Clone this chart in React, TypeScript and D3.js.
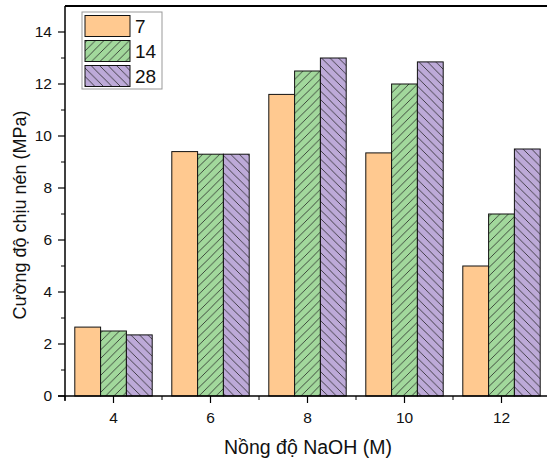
import React from "react";
import * as d3 from "d3";

const categories = [4, 6, 8, 10, 12];
const seriesNames = ["7", "14", "28"];
const values7 = [2.65, 9.4, 11.6, 9.35, 5.0];
const values14 = [2.5, 9.3, 12.5, 12.0, 7.0];
const values28 = [2.35, 9.3, 13.0, 12.85, 9.5];
const yTicks = [0, 2, 4, 6, 8, 10, 12, 14];
const xTicks = [4, 6, 8, 10, 12];

const W = 547;
const H = 461;
const colors = ["#FFC990", "#A2D89C", "#BDAAD8"];
const patterns = ["none", "fwd", "back"];

export default function App() {
  const x = d3.scaleLinear().domain([3, 13]).range([65, 550]);
  const y = d3.scaleLinear().domain([0, 15]).range([396, 6]);
  const series = [values7, values14, values28];
  const barUnits = 0.532;
  const bw = x(3 + barUnits) - x(3);
  const font = "'Liberation Sans', Arial, sans-serif";
  const yMinor = d3.range(1, 15, 2);
  const xMinor = [3, 5, 7, 9, 11, 13];

  return (
    <div style={{ position: "absolute", left: 0, top: 0 }}>
      <svg width={W} height={H} style={{ display: "block", background: "#fff" }}>
        <defs>
          <pattern id="fwd" patternUnits="userSpaceOnUse" width="8.5" height="8.5">
            <rect width="8.5" height="8.5" fill={colors[1]} />
            <path d="M-1,9.5 L9.5,-1 M-2,2 L2,-2 M6.5,10.5 L10.5,6.5" stroke="#222" strokeWidth="0.8" />
          </pattern>
          <pattern id="back" patternUnits="userSpaceOnUse" width="8.5" height="8.5">
            <rect width="8.5" height="8.5" fill={colors[2]} />
            <path d="M-1,-1 L9.5,9.5 M-2,6.5 L2,10.5 M6.5,-2 L10.5,2" stroke="#222" strokeWidth="0.8" />
          </pattern>
        </defs>

        {series.map((vals, si) =>
          vals.map((v, ci) => {
            const cx = x(categories[ci]);
            const x0 = cx - 1.5 * bw + si * bw;
            const fill = patterns[si] === "none" ? colors[si] : `url(#${patterns[si]})`;
            return (
              <rect
                key={`${si}-${ci}`}
                x={x0}
                y={y(v)}
                width={bw}
                height={y(0) - y(v)}
                fill={fill}
                stroke="#111"
                strokeWidth={1}
              />
            );
          })
        )}

        <line x1={x(3)} x2={W} y1={6} y2={6} stroke="#000" strokeWidth={2} />

        <line x1={x(3)} x2={x(3)} y1={6} y2={401} stroke="#000" strokeWidth={1.5} />
        {yTicks.map((t) => (
          <g key={`yt${t}`}>
            <line x1={x(3) - 7} x2={x(3)} y1={y(t)} y2={y(t)} stroke="#000" strokeWidth={1.2} />
            <text x={x(3) - 13} y={y(t)} dy="0.35em" textAnchor="end" fontFamily={font} fontSize={15.5} fill="#111">
              {t}
            </text>
          </g>
        ))}
        {yMinor.map((t) => (
          <line key={`ym${t}`} x1={x(3) - 4} x2={x(3)} y1={y(t)} y2={y(t)} stroke="#000" strokeWidth={1} />
        ))}

        <line x1={x(3) - 7} x2={W} y1={y(0)} y2={y(0)} stroke="#000" strokeWidth={1.5} />
        {xTicks.map((t) => (
          <g key={`xt${t}`}>
            <line x1={x(t)} x2={x(t)} y1={y(0)} y2={y(0) + 7} stroke="#000" strokeWidth={1.2} />
            <text x={x(t)} y={423} textAnchor="middle" fontFamily={font} fontSize={15.5} fill="#111">
              {t}
            </text>
          </g>
        ))}
        {xMinor.map((t) => (
          <line key={`xm${t}`} x1={x(t)} x2={x(t)} y1={y(0)} y2={y(0) + 4} stroke="#000" strokeWidth={1} />
        ))}

        <text x={308} y={454} textAnchor="middle" fontFamily={font} fontSize={19.5} fill="#111">
          Nồng độ NaOH (M)
        </text>
        <text
          transform={`translate(26,${215}) rotate(-90)`}
          textAnchor="middle"
          fontFamily={font}
          fontSize={18}
          fill="#111"
        >
          Cường độ chịu nén (MPa)
        </text>

        <rect x={82} y={12} width={80} height={77} fill="#fff" stroke="#999" strokeWidth={1} />
        {seriesNames.map((n, i) => (
          <g key={`lg${n}`}>
            <rect
              x={85}
              y={15.5 + i * 25}
              width={45}
              height={21}
              fill={patterns[i] === "none" ? colors[i] : `url(#${patterns[i]})`}
              stroke="#111"
              strokeWidth={1}
            />
            <text x={135} y={26 + i * 25} dy="0.36em" fontFamily={font} fontSize={19} fill="#111">
              {n}
            </text>
          </g>
        ))}
      </svg>
    </div>
  );
}
